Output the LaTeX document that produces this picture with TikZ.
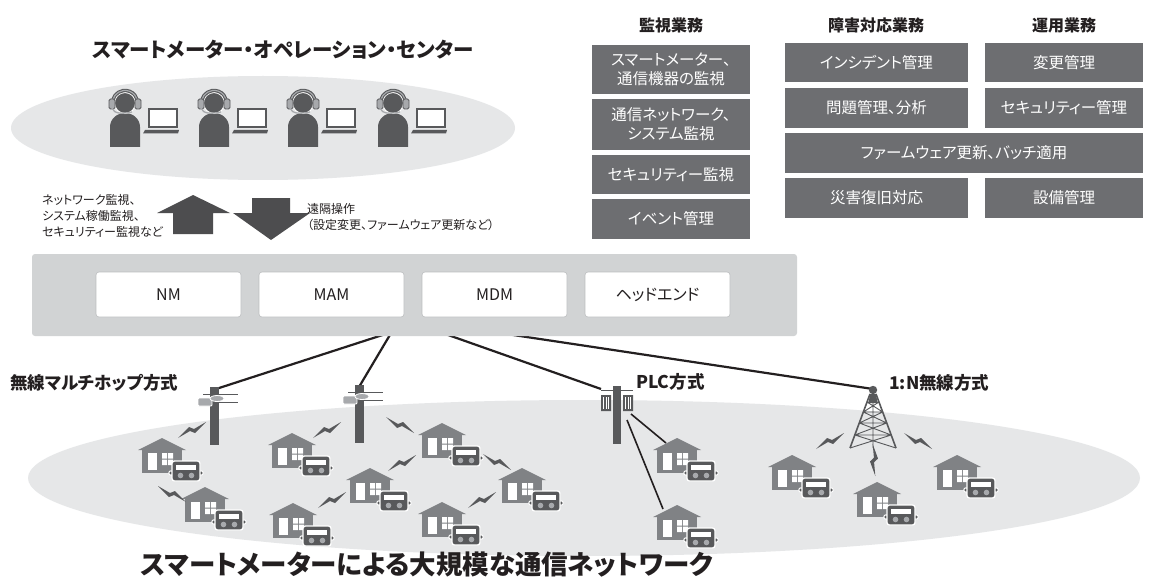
\documentclass[tikz,border=0pt]{standalone}
\usepackage{fontspec}
\setmainfont{Noto Sans CJK JP}[RawFeature=+palt]
\definecolor{ink}{HTML}{58595B}
\definecolor{boxgray}{HTML}{6D6E71}
\definecolor{bandgray}{HTML}{D1D3D4}
\definecolor{haze}{HTML}{E6E7E8}
\definecolor{housegray}{HTML}{808285}
\definecolor{arrowgray}{HTML}{4D4D4F}
\definecolor{rim}{HTML}{BCBEC0}
\definecolor{cable}{HTML}{231F20}
\definecolor{cupgray}{HTML}{A7A9AC}
\definecolor{textdark}{HTML}{231F20}
\tikzset{
  operator/.pic={
    % body with rounded shoulders
    \fill[ink] (-15,44) -- (-15,24) arc[start angle=180,end angle=360,x radius=15,y radius=14] -- (15,44) -- cycle;
    % head
    \fill[ink,draw=white,line width=1pt] (0,0) circle[radius=10.5];
    % headset band
    \draw[ink,line width=3.4pt] (-12.4,2) arc[start angle=171,end angle=369,radius=12.6];
    \draw[cupgray,line width=1.2pt] (-12.4,2) arc[start angle=171,end angle=369,radius=12.6];
    % ear cups
    \filldraw[fill=cupgray,draw=ink,line width=0.8pt,rounded corners=1.5pt] (-16,-4) rectangle (-10,6);
    \filldraw[fill=cupgray,draw=ink,line width=0.8pt,rounded corners=1.5pt] (10,-4) rectangle (16,6);
    % microphone
    \draw[cupgray,line width=1.3pt] (-13,5) .. controls (-11,11) and (-3,11) .. (7,9);
    % laptop
    \draw[ink,line width=2.4pt,fill=white] (24,6) rectangle (52,24);
    \fill[ink] (20,27) -- (54,27) -- (53,30.5) -- (18,30.5) -- cycle;
  },
  house/.pic={
    \fill[housegray] (-24,12) -- (0,0) -- (24,12) -- cycle;
    \fill[housegray] (-20,11) rectangle (20,35);
    \fill[white] (-14,15) rectangle (-5,32);
    \fill[white] (0,15) rectangle (5,20.5) (6,15) rectangle (11,20.5)
                 (0,21.5) rectangle (5,27) (6,21.5) rectangle (11,27);
    % meter
    \filldraw[fill=ink,draw=white,line width=1pt] (9,35) circle[radius=2.2] (39,35) circle[radius=2.2];
    \filldraw[fill=ink,draw=white,line width=1.3pt,rounded corners=2.5pt] (10,23) rectangle (38,43);
    \fill[white] (14,27) rectangle (34,32);
    \fill[cupgray] (18.5,37.5) circle[radius=2.8] (29.5,37.5) circle[radius=2.8];
  },
  bolt/.pic={
    \fill[ink] (-14,8) -- (-3,-3) -- (2,-1) -- (14,-8) -- (3,3) -- (-2,1) -- cycle;
  },
  mpole/.pic={
    \fill[ink] (-4.5,0) rectangle (4.5,58);
    \draw[ink,line width=0.9pt] (-11,7) -- (24,7);
    \draw[ink,line width=0.9pt] (0,15) -- (24,15);
    \filldraw[fill=cupgray,draw=white,line width=0.8pt,rounded corners=1pt] (-16,11) rectangle (-2,19);
    \filldraw[fill=cupgray,draw=white,line width=0.8pt] (3,11.5) ellipse[x radius=7,y radius=3];
  },
  ppole/.pic={
    \fill[ink] (-4,0) rectangle (4,58);
    \draw[ink,line width=1pt] (-16,4) -- (16,4);
    \fill[ink] (-16,9) rectangle (-6,25) (6,9) rectangle (16,25);
    \draw[white,line width=0.6pt] (-13.5,11) -- (-13.5,23) (-11,11) -- (-11,23) (-8.5,11) -- (-8.5,23)
                                  (8.5,11) -- (8.5,23) (11,11) -- (11,23) (13.5,11) -- (13.5,23);
  },
  tower/.pic={
    \fill[ink] (0,0) circle[radius=4.2];
    \fill[ink] (-3,4) -- (3,4) -- (4.5,13) -- (-4.5,13) -- cycle;
    \draw[ink,line width=1.6pt] (-3,4) -- (-23,58) (3,4) -- (23,58);
    \draw[ink,line width=0.9pt] (0,4) -- (0,58)
      (-6,12) -- (6,12) (-9.7,22) -- (9.7,22) (-13.7,33) -- (13.7,33) (-18.2,45) -- (18.2,45)
      (-6,12) -- (9.7,22) (6,12) -- (-9.7,22)
      (-9.7,22) -- (13.7,33) (9.7,22) -- (-13.7,33)
      (-13.7,33) -- (18.2,45) (13.7,33) -- (-18.2,45)
      (-18.2,45) -- (23,58) (18.2,45) -- (-23,58);
  },
  opsbox/.style={fill=boxgray,text=white,font=\fontsize{15.5}{19}\selectfont,inner sep=0pt,align=center},
  modbox/.style={fill=white,draw=rim,line width=0.6pt,rounded corners=3pt,minimum width=145pt,
    minimum height=45pt,font=\fontsize{16}{19}\selectfont,text=textdark},
  colhead/.style={font=\bfseries\fontsize{16}{19}\selectfont,text=textdark},
  station/.style={font=\bfseries\fontsize{17.5}{20}\selectfont,text=textdark,anchor=west,inner sep=0pt},
  note/.style={font=\fontsize{12}{16}\selectfont,text=textdark,align=left,anchor=west,inner sep=0pt},
  link/.style={cable,line width=2.2pt},
}
\begin{document}
\begin{tikzpicture}[x=1pt,y=-1pt]
\fill[white] (0,0) rectangle (1157,583);
\useasboundingbox (0,0) rectangle (1157,583);

% operation centre
\fill[haze] (263,128) ellipse[x radius=252,y radius=52];
\node[font=\bfseries\fontsize{20.5}{24}\selectfont,text=textdark] (soc) at (283,50) {スマートメーター・オペレーション・センター};
\foreach \px in {125,214,303,393} \pic at (\px,103) {operator};

% flows between centre and systems
\fill[arrowgray] (193,195) -- (230,213) -- (213,213) -- (213,234) -- (173,234) -- (173,213) -- (157,213) -- cycle;
\fill[arrowgray] (252,198) -- (290,198) -- (290,213) -- (310,213) -- (271,240) -- (233,213) -- (252,213) -- cycle;
\node[note] (up) at (42,216) {ネットワーク監視、\\システム稼働監視、\\セキュリティー監視など};
\node[note] (down) at (307,217) {遠隔操作\\（設定変更、ファームウェア更新など）};

% field network
\fill[haze] (584,478) ellipse[x radius=556,y radius=78];

% connectors from the systems (hidden behind the band) to the access points
\coordinate (f1) at (435,318);
\coordinate (f2) at (400,318);
\coordinate (f3) at (400,318);
\coordinate (f4) at (400,318);
\coordinate (p1) at (216,389);
\coordinate (p2) at (359,387);
\coordinate (p3) at (601,389);
\coordinate (tw) at (873,389);
\draw[link] (f1) -- (p1);
\draw[link] (f2) -- (p2);
\draw[link] (f3) -- (p3);
\draw[link] (f4) -- (tw);

% systems band
\node[fill=bandgray,rounded corners=3pt,minimum width=765pt,minimum height=82pt,inner sep=0pt] (band) at (414.5,295) {};
\node[modbox] (nm) at (168.5,294.5) {NM};
\node[modbox] (mam) at (331.5,294.5) {MAM};
\node[modbox] (mdm) at (494.5,294.5) {MDM};
\node[modbox] (he) at (657.5,294.5) {ヘッドエンド};

% operations tasks
\node[colhead] (h1) at (671,25) {監視業務};
\node[colhead] (h2) at (876,25) {障害対応業務};
\node[colhead] (h3) at (1064,25) {運用業務};
\node[opsbox,minimum width=158pt,minimum height=49pt] (m1) at (671,69.5) {スマートメーター、\\通信機器の監視};
\node[opsbox,minimum width=158pt,minimum height=51pt] (m2) at (671,124.5) {通信ネットワーク、\\システム監視};
\node[opsbox,minimum width=158pt,minimum height=39pt] (m3) at (671,174.5) {セキュリティー監視};
\node[opsbox,minimum width=158pt,minimum height=40pt] (m4) at (671,219) {イベント管理};
\node[opsbox,minimum width=183pt,minimum height=39pt] (t1) at (876.5,62.5) {インシデント管理};
\node[opsbox,minimum width=183pt,minimum height=40pt] (t2) at (876.5,108) {問題管理、分析};
\node[opsbox,minimum width=358pt,minimum height=40pt] (t3) at (964,153) {ファームウェア更新、バッチ適用};
\node[opsbox,minimum width=183pt,minimum height=40pt] (t4) at (876.5,198) {災害復旧対応};
\node[opsbox,minimum width=158pt,minimum height=39pt] (o1) at (1064,62.5) {変更管理};
\node[opsbox,minimum width=158pt,minimum height=40pt] (o2) at (1064,108) {セキュリティー管理};
\node[opsbox,minimum width=158pt,minimum height=40pt] (o4) at (1064,198) {設備管理};

% access points
\pic at (214,387) {mpole};
\pic at (359,385) {mpole};
\pic at (617,386) {ppole};
\pic at (873,390) {tower};
\node[station] (s1) at (10,383) {無線マルチホップ方式};
\node[station] (s2) at (636,382) {PLC方式};
\node[station] (s3) at (889,383) {1:N無線方式};

% PLC service drops
\coordinate (pa) at (631,414);
\coordinate (pb) at (627,420);
\coordinate (ha) at (666,443);
\coordinate (hb) at (663,509);
\draw[cable,line width=1.6pt] (pa) -- (ha);
\draw[cable,line width=1.6pt] (pb) -- (hb);

% homes with meters
\foreach \hx/\hy in {162/438,205/487,292/433,442/423,370/468,522/468,293/503,442/502,
                     677/438,677/505,792/455,877/482,957/455}
  \pic at (\hx,\hy) {house};

% radio links
\pic at (192,430) {bolt};
\pic[xscale=-1] at (172,494) {bolt};
\pic at (327,430) {bolt};
\pic[xscale=-1] at (400,425) {bolt};
\pic at (402,463) {bolt};
\pic[xscale=-1] at (497,462) {bolt};
\pic at (332,500) {bolt};
\pic at (482,500) {bolt};
\pic at (830,441) {bolt};
\pic[rotate=65] at (874,460) {bolt};
\pic[xscale=-1] at (918,441) {bolt};

\node[font=\bfseries\fontsize{26.5}{30}\selectfont,text=textdark] (net) at (427,565) {スマートメーターによる大規模な通信ネットワーク};
\end{tikzpicture}
\end{document}
